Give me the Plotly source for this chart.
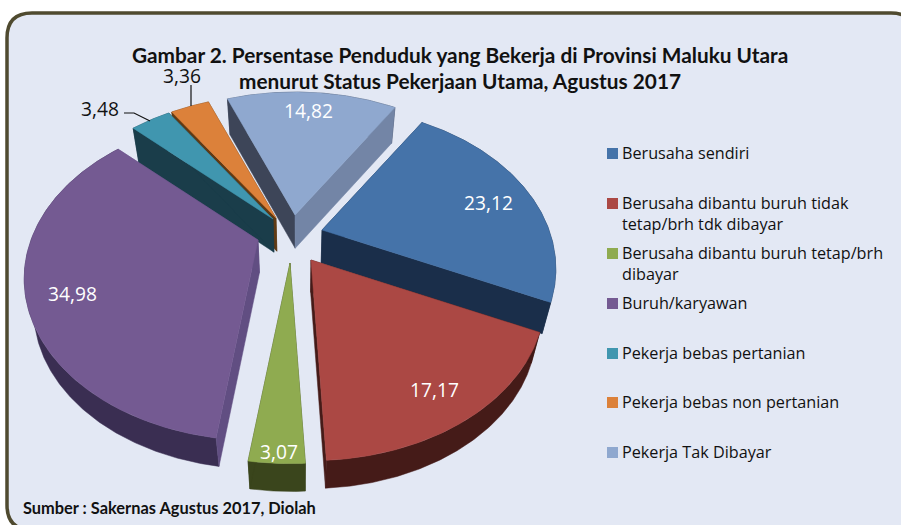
import numpy as np
import plotly.graph_objects as go

# ---------- data ----------
categories = [
    "Berusaha sendiri",
    "Berusaha dibantu buruh tidak<br>tetap/brh tdk dibayar",
    "Berusaha dibantu buruh tetap/brh<br>dibayar",
    "Buruh/karyawan",
    "Pekerja bebas pertanian",
    "Pekerja bebas non pertanian",
    "Pekerja Tak Dibayar",
]
values = [23.12, 17.17, 3.07, 34.98, 3.48, 3.36, 14.82]

# ---------- style ----------
top_colors = ["#4573A9", "#AB4844", "#8FAB50", "#745A92", "#4096AF", "#DC813A", "#8FA8CF"]
rim_colors = ["#1A2E4A", "#451B18", "#3A451C", "#3A2E52", "#1A3D4A", "#5F3A14", "#3D4558"]
wall_first = ["#1A2E4A", "#3F1815", "#3A451C", "#614E82", "#1A3D4A", "#5F3A14", "#3D4558"]
wall_last = ["#1A2E4A", "#451B18", "#3A451C", "#614E82", "#1A3D4A", "#5F3A14", "#7385A6"]
apex = [(322, 230), (311, 260), (290, 263), (258, 240), (273, 219), (276, 218), (295, 215)]
label_pos = [(488, 202), (434, 389), (279, 451), (72, 293), (100, 108), (182, 75), (308, 110)]
label_col = ["white", "white", "white", "white", "#111111", "#111111", "white"]
draw_order = [6, 5, 4, 0, 3, 2, 1]

START_DEG = 32.0
RX, RY, PERSP = 227.0, 152.5, 0.24


def rim(theta_deg):
    t = np.radians(theta_deg)
    d = 1 + PERSP * np.cos(t)
    return RX * np.sin(t) / d, -RY * np.cos(t) / d


def drop(x, y):
    """Lower face of the disc: shifted down, converging towards the middle."""
    return x - 0.035 * (x - 300), y + 38 - 0.022 * y


fig = go.Figure()

cum = np.concatenate([[0], np.cumsum(values)]) * 360.0 / sum(values) + START_DEG


def poly(x, y, color, name):
    fig.add_trace(go.Scatter(
        x=list(x) + [x[0]], y=list(y) + [y[0]], mode="lines", fill="toself",
        fillcolor=color, line=dict(width=0.5, color=color),
        name=name, legendgroup=name, showlegend=False, hoverinfo="skip",
    ))


for i in draw_order:
    a0, a1 = cum[i], cum[i + 1]
    th = np.linspace(a0, a1, max(8, int(a1 - a0) * 2))
    ax, ay = apex[i]
    rx, ry = rim(th)
    px, py = ax + rx, ay + ry
    bx, by = drop(px, py)
    abx, aby = drop(ax, ay)
    name = categories[i].replace("<br>", " ")
    # rim wall
    poly(np.concatenate([px, bx[::-1]]), np.concatenate([py, by[::-1]]), rim_colors[i], name)
    # radial walls
    poly([ax, px[0], bx[0], abx], [ay, py[0], by[0], aby], wall_first[i], name)
    poly([ax, px[-1], bx[-1], abx], [ay, py[-1], by[-1], aby], wall_last[i], name)
    # top face
    poly(np.concatenate([[ax], px]), np.concatenate([[ay], py]), top_colors[i], name)

# leader lines of the two outside labels
fig.add_trace(go.Scatter(x=[191, 191], y=[85, 106], mode="lines",
                         line=dict(color="#111111", width=1.2), showlegend=False, hoverinfo="skip"))
fig.add_trace(go.Scatter(x=[124, 134, 150], y=[113, 113, 121], mode="lines",
                         line=dict(color="#111111", width=1.2), showlegend=False, hoverinfo="skip"))

# legend keys
legend_y = [153, 203, 253, 303, 353, 402, 452]
for i, ly in enumerate(legend_y):
    fig.add_trace(go.Scatter(x=[612.5], y=[ly + 0.5], mode="markers",
                             marker=dict(symbol="square", size=11, color=top_colors[i]),
                             showlegend=False, hoverinfo="skip"))
    fig.add_annotation(x=620, y=ly - 13, xanchor="left", yanchor="top", align="left",
                       text=categories[i], showarrow=False,
                       font=dict(family="Open Sans", size=16.2, color="#111111"))

# value labels
for i, (lx, ly) in enumerate(label_pos):
    fig.add_annotation(x=lx, y=ly, text=f"{values[i]:.2f}".replace(".", ","), showarrow=False,
                       font=dict(family="Open Sans", size=19.2, color=label_col[i]))

# title and source
fig.add_annotation(x=460, y=54, text="Gambar 2. Persentase Penduduk yang Bekerja di Provinsi Maluku Utara",
                   showarrow=False, font=dict(family="Lato", size=20.8, color="#111111", weight="bold"))
fig.add_annotation(x=460, y=80, text="menurut Status Pekerjaan Utama, Agustus 2017",
                   showarrow=False, font=dict(family="Lato", size=20.8, color="#111111", weight="bold"))
fig.add_annotation(x=21, y=507, xanchor="left", text="Sumber : Sakernas Agustus 2017, Diolah",
                   showarrow=False, font=dict(family="Lato", size=16.4, color="#111111", weight="bold"))

fig.update_layout(
    width=901, height=525, margin=dict(l=0, r=0, t=0, b=0),
    paper_bgcolor="white", plot_bgcolor="white", showlegend=False,
    xaxis=dict(range=[0, 901], visible=False, fixedrange=True),
    yaxis=dict(range=[525, 0], visible=False, fixedrange=True),
    shapes=[dict(type="path", xref="x", yref="y", layer="below",
                 path="M 7,38 Q 7,13 32,13 L 891,13 Q 916,13 916,38 L 916,530 L 32,530 Q 7,530 7,505 Z",
                 fillcolor="#E3E8F4", line=dict(color="#4F4A2F", width=3.5))],
)

fig.write_html("out.html", post_script="document.body.style.margin='0';",
               config={"displayModeBar": False})
